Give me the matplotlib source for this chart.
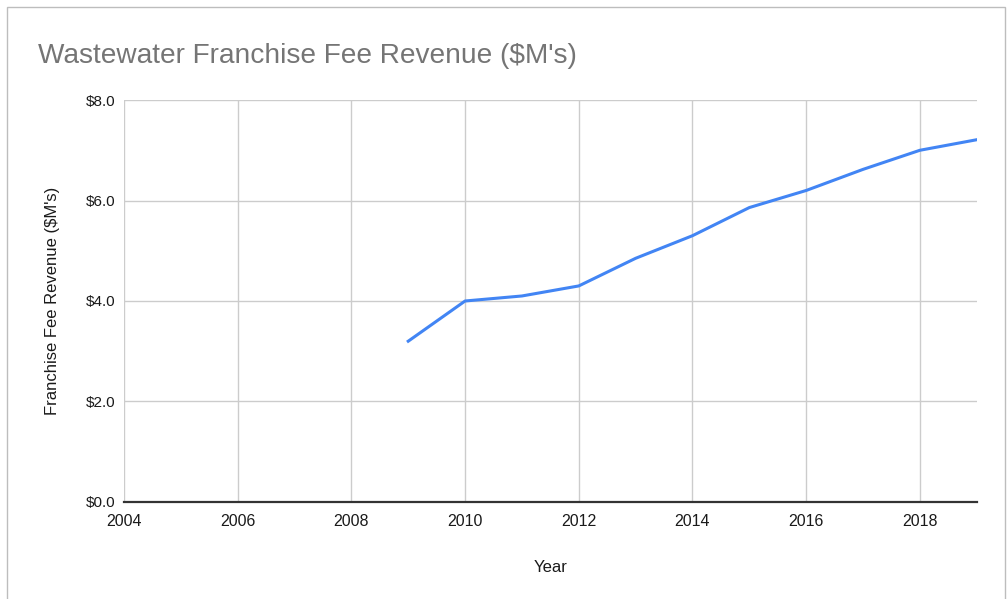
import matplotlib
matplotlib.use('Agg')
import matplotlib.pyplot as plt
from matplotlib.patches import Rectangle
from matplotlib.ticker import FuncFormatter, MultipleLocator

plt.rcParams['font.family'] = ['Liberation Sans', 'DejaVu Sans']

TITLE = "Wastewater Franchise Fee Revenue ($M's)"
X_LABEL = 'Year'
Y_LABEL = "Franchise Fee Revenue ($M's)"

years = [2009, 2010, 2011, 2012, 2013, 2014, 2015, 2016, 2017, 2018, 2019]
revenue = [3.2, 4.0, 4.1, 4.3, 4.85, 5.3, 5.86, 6.2, 6.62, 7.0, 7.21]

fig = plt.figure(figsize=(10.08, 5.99), dpi=100)
ax = fig.add_axes([0.123, 0.162, 0.846, 0.671])

# outer card border
fig.patches.append(Rectangle((7 / 1008, -0.01), 998 / 1008, 1 - 7 / 599 + 0.01,
                             transform=fig.transFigure, fill=False,
                             edgecolor='#bdbdbd', linewidth=1.0))

ax.plot(years, revenue, color='#4285f4', linewidth=2.2, solid_joinstyle='round', zorder=3)

ax.set_xlim(2004, 2019)
ax.set_ylim(0, 8)
ax.xaxis.set_major_locator(MultipleLocator(2))
ax.yaxis.set_major_locator(MultipleLocator(2))
ax.yaxis.set_major_formatter(FuncFormatter(lambda v, _: f'${v:.1f}'))

ax.grid(True, color='#cccccc', linewidth=1.0)
ax.set_axisbelow(True)
for side in ['top', 'right', 'left']:
    ax.spines[side].set_visible(False)
ax.spines['bottom'].set_color('#333333')
ax.spines['bottom'].set_linewidth(1.6)
ax.spines['bottom'].set_zorder(4)

ax.tick_params(length=0, colors='#1a1a1a')
ax.tick_params(axis='y', labelsize=11, pad=6)
ax.tick_params(axis='x', labelsize=11.5, pad=9)

ax.set_xlabel(X_LABEL, fontsize=12, color='#1a1a1a', labelpad=22)
ax.set_ylabel(Y_LABEL, fontsize=12, color='#1a1a1a', labelpad=19)

fig.text(38 / 1008, 1 - 56 / 599, TITLE, fontsize=20.2, color='#757575',
         ha='left', va='center')

fig.savefig('out.png', dpi=100)
